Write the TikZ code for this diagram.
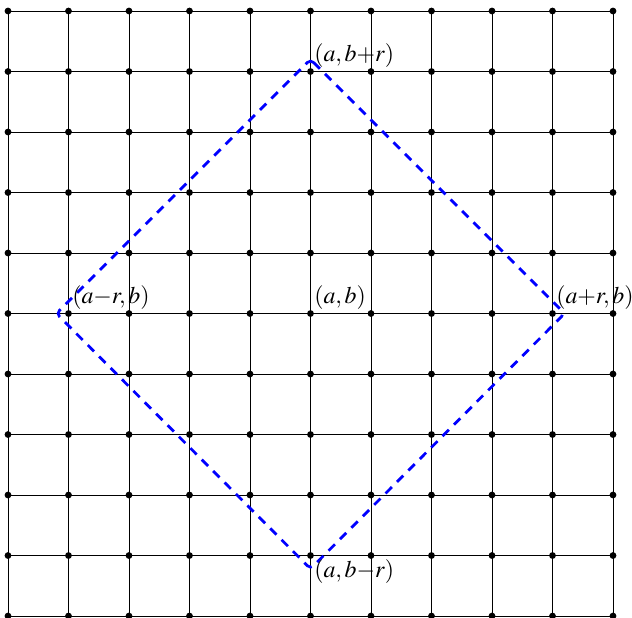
\documentclass[tikz,border=0pt]{standalone}
\usepackage{mathptmx}
\begin{document}
\begin{tikzpicture}[
  gridline/.style={line width=0.4pt, black},
  gdot/.style={circle, fill=black, inner sep=0pt, minimum size=3.2pt},
  diam/.style={blue, line width=1.3pt, dash pattern=on 4.2pt off 3.4pt, rounded corners=2pt},
  lbl/.style={inner sep=1.6pt, font=\fontsize{11.2pt}{13pt}\selectfont}
]
\useasboundingbox (-0.132,-0.017) rectangle (10.314,10.182);
\foreach \i in {0,...,10} {
  \draw[gridline] (\i,0) -- (\i,10);
  \draw[gridline] (0,\i) -- (10,\i);
}
\foreach \i in {0,...,10} {
  \foreach \j in {0,...,10} {
    \node[gdot] (p\i-\j) at (\i,\j) {};
  }
}
\coordinate (T) at (5,9.2);
\coordinate (L) at (0.8,5);
\coordinate (R) at (9.2,5);
\coordinate (B) at (5,0.78);
\draw[diam] (T) -- (R) -- (B) -- (L) -- cycle;
\node[lbl, anchor=south west] (lt) at (5,9) {$(a,b{+}r)$};
\node[lbl, anchor=south west] (lc) at (5,5) {$(a,b)$};
\node[lbl, anchor=south west] (ll) at (1,5) {$(a{-}r,b)$};
\node[lbl, anchor=south west] (lr) at (9,5) {$(a{+}r,b)$};
\node[lbl, anchor=north west] (lb) at (5,1) {$(a,b{-}r)$};
\end{tikzpicture}
\end{document}
